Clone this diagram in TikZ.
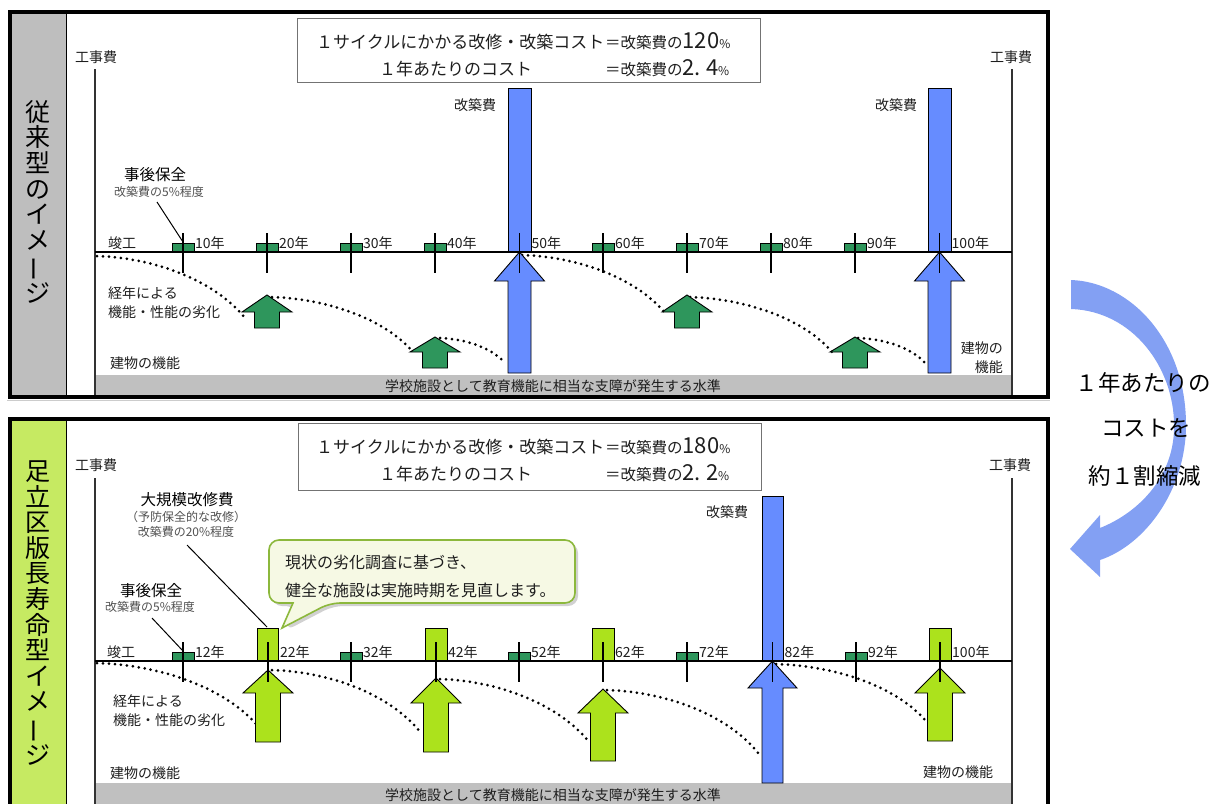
\documentclass[tikz,border=0pt]{standalone}
\usepackage{fontspec}
\setmainfont{Noto Sans CJK JP}
\definecolor{dgreen}{RGB}{46,150,92}
\definecolor{lgreen}{RGB}{172,226,28}
\definecolor{colgreen}{RGB}{198,234,98}
\definecolor{bblue}{RGB}{102,140,255}
\definecolor{bandgray}{RGB}{192,192,192}
\definecolor{colgray}{RGB}{190,190,190}
\definecolor{txt}{RGB}{30,30,30}
\definecolor{subtxt}{RGB}{80,80,80}
\definecolor{calfill}{RGB}{246,249,228}
\definecolor{calline}{RGB}{140,184,60}
\definecolor{bigarrow}{RGB}{120,152,242}
\newcommand\fsz[1]{\fontsize{#1}{#1}\selectfont}
\newcommand\drawUpArr[7]{\filldraw[#1] (#2,#3) -- (#2+#6,#4) -- (#2+#7,#4) -- (#2+#7,#5) -- (#2-#7,#5) -- (#2-#7,#4) -- (#2-#6,#4) -- cycle;}
\begin{document}
\begin{tikzpicture}[x=1pt,y=-1pt,
  lbl/.style={inner sep=0pt, text=txt, font=\fsz{14}},
  sublbl/.style={inner sep=0pt, text=subtxt, font=\fsz{12}},
  headlbl/.style={inner sep=0pt, text=black, font=\fsz{15.5}},
  yrlbl/.style={lbl, anchor=west},
  sumbox/.style={draw=black!55, line width=1pt, fill=white, inner sep=0pt},
  axisline/.style={draw=black!80, line width=1.3pt},
  baseline/.style={draw=black, line width=2.5pt},
  tickline/.style={draw=black, line width=1.1pt},
  leader/.style={draw=black, line width=1pt},
  smallrect/.style={fill=dgreen, draw=black, line width=0.8pt},
  dgarr/.style={fill=dgreen, draw=black, line width=0.9pt},
  lgarr/.style={fill=lgreen, draw=black, line width=0.9pt},
  bluebar/.style={fill=bblue, draw=black, line width=0.9pt},
  dots/.style={draw=black, line width=3pt, line cap=round, dash pattern=on 0pt off 6pt},
  vlabel/.style={inner sep=0pt, text=black, align=center, font=\fontsize{25}{25.6}\selectfont},
  sidetxt/.style={inner sep=0pt, text=black, font=\fsz{22.5}}]
\useasboundingbox (0,0) rectangle (1225,803);
\clip (0,0) rectangle (1225,803);

% ---------- panel backgrounds ----------
\fill[colgray] (12,13.5) rectangle (66,395);
\fill[colgreen] (12,420.5) rectangle (66,806);
\fill[bandgray] (95,375) rectangle (1012,395);
\fill[bandgray] (95,783) rectangle (1012,806);
\draw[black, line width=1pt] (66,13.5) -- (66,395);
\draw[black, line width=1pt] (66,420.5) -- (66,806);
\draw[black!20, line width=1pt] (7,400.5) -- (1050,400.5);

% ---------- axes ----------
\coordinate (tl0) at (95,69);  \coordinate (tl1) at (95,395);
\coordinate (tr0) at (1012,69); \coordinate (tr1) at (1012,395);
\coordinate (bl0) at (95,478); \coordinate (bl1) at (95,806);
\coordinate (br0) at (1012,478); \coordinate (br1) at (1012,806);
\draw[axisline] (tl0) -- (tl1);
\draw[axisline] (tr0) -- (tr1);
\draw[axisline] (bl0) -- (bl1);
\draw[axisline] (br0) -- (br1);

% ---------- dotted degradation curves (top) ----------
\draw[dots] (97,256) .. controls (156,258) and (215,281) .. (245,318);
\draw[dots] (272,297) .. controls (328,299) and (385,319) .. (413,352);
\draw[dots] (440,338) .. controls (466,339) and (492,348) .. (505,363);
\draw[dots] (522,255) .. controls (579,257) and (636,278) .. (665,313);
\draw[dots] (690,297) .. controls (747,299) and (804,319) .. (832,352);
\draw[dots] (858,338) .. controls (885,339) and (912,348) .. (925,363);
% ---------- dotted degradation curves (bottom) ----------
\draw[dots] (97,663) .. controls (161,665) and (225,688) .. (257,725);
\draw[dots] (272,670) .. controls (332,672) and (391,695) .. (421,733);
\draw[dots] (440,679) .. controls (500,681) and (560,705) .. (590,743);
\draw[dots] (607,690) .. controls (667,692) and (728,715) .. (758,753);
\draw[dots] (776,664) .. controls (836,666) and (895,686) .. (925,720);

% ---------- top panel bars and arrows ----------
\filldraw[bluebar] (508,88) rectangle (531,252);
\filldraw[bluebar] (928,88) rectangle (951,252);
\drawUpArr{bluebar}{519.5}{252}{281}{373}{25}{11.5}
\drawUpArr{bluebar}{939.5}{252}{281}{373}{25}{11.5}
\drawUpArr{dgarr}{267}{295}{312}{328}{25}{12.5}
\drawUpArr{dgarr}{435}{337}{352}{368}{25}{12.5}
\drawUpArr{dgarr}{687}{295}{312}{328}{25}{12.5}
\drawUpArr{dgarr}{855}{337}{352}{368}{25}{12.5}
\foreach \x in {183,267,351,435,603,687,771,855}
  \filldraw[smallrect] (\x-11,243) rectangle (\x+11,252);
\draw[baseline] (95,252) -- (1012,252);
\foreach \x/\t [count=\i] in {183/10,267/20,351/30,435/40,519.5/50,603/60,687/70,771/80,855/90,939.5/100}{
  \draw[tickline] (\x,233) -- (\x,273);
  \node[yrlbl] (ty\i) at (\x+12,243) {\t 年};
}

% ---------- bottom panel bars and arrows ----------
\filldraw[lgarr] (257.5,628) rectangle (278.5,661);
\filldraw[lgarr] (425,628) rectangle (447,661);
\filldraw[lgarr] (592,628) rectangle (614,661);
\filldraw[lgarr] (929,628) rectangle (951,661);
\filldraw[bluebar] (762,496) rectangle (783,661);
\drawUpArr{lgarr}{268}{670}{693}{742}{25}{12.5}
\drawUpArr{lgarr}{436}{678}{703}{752}{25}{12.5}
\drawUpArr{lgarr}{603}{689}{713}{761}{25}{12.5}
\drawUpArr{lgarr}{940}{668}{693}{741}{25}{12.5}
\drawUpArr{bluebar}{772.5}{661}{688}{783}{24.5}{10.5}
\foreach \x in {183,351,519,687,856}
  \filldraw[smallrect] (\x-11,652) rectangle (\x+11,661);
\draw[baseline] (95,661) -- (1012,661);
\foreach \x/\t [count=\i] in {183/12,268/22,351/32,436/42,519/52,603/62,687/72,772.5/82,856/92,940/100}{
  \draw[tickline] (\x,642) -- (\x,682);
  \node[yrlbl] (by\i) at (\x+12,652) {\t 年};
}

% ---------- summary boxes ----------
\node[sumbox, minimum width=463pt, minimum height=64pt] (sum1) at (528.5,50) {};
\node[anchor=base west, inner sep=0pt, text=txt, font=\fsz{17}] (s1a) at (316,48.5) {１サイクルにかかる改修・改築コスト};
\node[anchor=base west, inner sep=0pt, text=txt, font=\fsz{15.5}] (s1b) at (605,48.5) {＝改築費の{\fsz{22}120}{\fsz{12}\%}};
\node[anchor=base west, inner sep=0pt, text=txt, font=\fsz{17}] (s1c) at (379,75.5) {１年あたりのコスト};
\node[anchor=base west, inner sep=0pt, text=txt, font=\fsz{15.5}] (s1d) at (605,75.5) {＝改築費の{\fsz{22}2.\hspace{5pt}4}{\fsz{12}\%}};

\node[sumbox, minimum width=463pt, minimum height=67pt] (sum2) at (529.5,456.5) {};
\node[anchor=base west, inner sep=0pt, text=txt, font=\fsz{17}] (s2a) at (316,453.5) {１サイクルにかかる改修・改築コスト};
\node[anchor=base west, inner sep=0pt, text=txt, font=\fsz{15.5}] (s2b) at (605,453.5) {＝改築費の{\fsz{22}180}{\fsz{12}\%}};
\node[anchor=base west, inner sep=0pt, text=txt, font=\fsz{17}] (s2c) at (379,480.5) {１年あたりのコスト};
\node[anchor=base west, inner sep=0pt, text=txt, font=\fsz{15.5}] (s2d) at (605,480.5) {＝改築費の{\fsz{22}2.\hspace{5pt}2}{\fsz{12}\%}};

% ---------- top panel labels ----------
\node[lbl] (kj1) at (96,57) {工事費};
\node[lbl] (kj2) at (1011,57) {工事費};
\node[lbl, anchor=west] (sk1) at (108,243) {竣工};
\node[headlbl] (jg1) at (155,175) {事後保全};
\node[sublbl] (jg1s) at (159,192) {改築費の5\%程度};
\coordinate (ld1a) at (157,202); \coordinate (ld1b) at (183,242);
\draw[leader] (ld1a) -- (ld1b);
\node[lbl, anchor=west, align=left, font=\fontsize{14}{19}\selectfont] (rk1) at (108,302.5) {経年による\\機能・性能の劣化};
\node[lbl, anchor=west] (tk1) at (110,363) {建物の機能};
\node[lbl] (kc1) at (475,105) {改築費};
\node[lbl] (kc2) at (896,105) {改築費};
\node[lbl, anchor=east, align=right, font=\fontsize{14}{19}\selectfont] (tk2) at (1003,357.5) {建物の\\機能};
\node[lbl] (band1) at (553,386) {学校施設として教育機能に相当な支障が発生する水準};
\node[vlabel] (vt1) at (38,202) {従\\来\\型\\の\\イ\\メ\\\rotatebox[origin=c]{90}{ー}\\ジ};

% ---------- bottom panel labels ----------
\node[lbl] (kj3) at (96,465) {工事費};
\node[lbl] (kj4) at (1010,465) {工事費};
\node[headlbl] (dk) at (187,500) {大規模改修費};
\node[sublbl] (dks1) at (186,517) {（予防保全的な改修）};
\node[sublbl] (dks2) at (186,532) {改築費の20\%程度};
\coordinate (ld2a) at (187,545); \coordinate (ld2b) at (267,627);
\draw[leader] (ld2a) -- (ld2b);
\node[headlbl] (jg2) at (151,591) {事後保全};
\node[sublbl] (jg2s) at (150,607) {改築費の5\%程度};
\coordinate (ld3a) at (152,618); \coordinate (ld3b) at (183,651);
\draw[leader] (ld3a) -- (ld3b);
\node[lbl, anchor=west] (sk2) at (107,652) {竣工};
\node[lbl, anchor=west, align=left, font=\fontsize{14}{19}\selectfont] (rk2) at (113,711) {経年による\\機能・性能の劣化};
\node[lbl, anchor=west] (tk3) at (110,773) {建物の機能};
\node[lbl, anchor=west] (tk4) at (923,772) {建物の機能};
\node[lbl] (kc3) at (727,512) {改築費};
\node[lbl] (band2) at (553,795) {学校施設として教育機能に相当な支障が発生する水準};
\node[vlabel] (vt2) at (38,613) {足\\立\\区\\版\\長\\寿\\命\\型\\イ\\メ\\\rotatebox[origin=c]{90}{ー}\\ジ};

% ---------- callout ----------
\fill[black, opacity=0.18, rounded corners=10pt, shift={(3,3)}] (293,603) -- (269,603) -- (269,540) -- (575,540) -- (575,603) -- (330,603) -- (282,628) -- cycle;
\draw[fill=calfill, draw=calline, line width=1.6pt, rounded corners=10pt] (293,603) -- (269,603) -- (269,540) -- (575,540) -- (575,603) -- (330,603) [sharp corners] -- (282,628) -- cycle;
\node[anchor=west, inner sep=0pt, text=txt, align=left, font=\fontsize{16}{28}\selectfont] (cal) at (285,576) {現状の劣化調査に基づき、\\健全な施設は実施時期を見直します。};

% ---------- panel borders ----------
\draw[black, line width=4pt] (10,11.5) rectangle (1048,397);
\draw[black, line width=4pt] (10,812) -- (10,418.5) -- (1048,418.5) -- (1048,812);

% ---------- curved arrow on the right ----------
\fill[bigarrow, opacity=0.92] (1071,280) .. controls (1130,282) and (1186,340) .. (1186,425)
  .. controls (1186,490) and (1145,545) .. (1100,560) -- (1100,577) -- (1070,549) -- (1100,515) -- (1100,528)
  .. controls (1140,512) and (1175,475) .. (1174,425) .. controls (1174,368) and (1133,311) .. (1071,309) -- cycle;
\node[sidetxt] (rt1) at (1143,383) {１年あたりの};
\node[sidetxt] (rt2) at (1146,428) {コストを};
\node[sidetxt] (rt3) at (1145,476) {約１割縮減};
\end{tikzpicture}
\end{document}
